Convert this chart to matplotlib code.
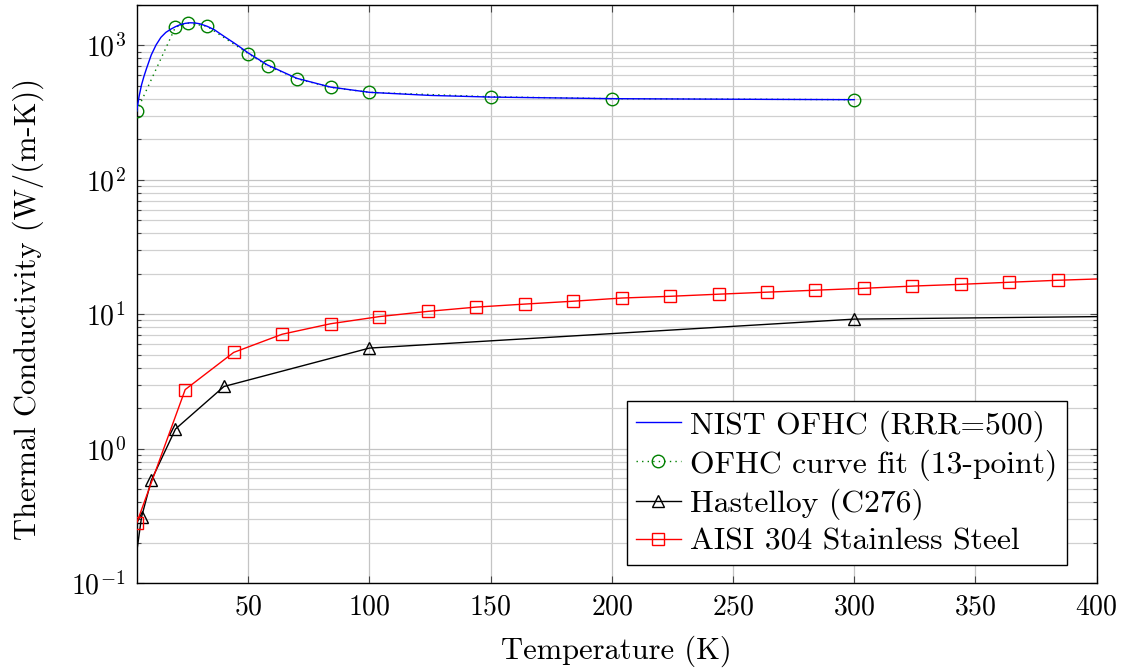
import matplotlib
matplotlib.use("Agg")
import matplotlib.pyplot as plt
from matplotlib.ticker import LogLocator, NullFormatter

plt.rcParams['font.family'] = 'serif'
plt.rcParams['font.serif'] = ['cmr10', 'DejaVu Serif']
plt.rcParams['mathtext.fontset'] = 'cm'
plt.rcParams['axes.formatter.use_mathtext'] = True

# NIST OFHC copper, RRR = 500
nist_T = [4, 5, 6, 7, 8, 10, 12, 14, 16, 18, 20, 22, 24, 26, 28, 30, 33, 36,
          40, 45, 50, 58, 70, 84, 100, 125, 150, 200, 250, 300]
nist_k = [324, 420, 510, 590, 670, 850, 1010, 1150, 1250, 1320, 1380, 1430,
          1460, 1475, 1470, 1450, 1390, 1310, 1170, 1020, 880, 715, 570, 490,
          448, 425, 413, 402, 398, 395]

# curve-fit points
fit_T = [4, 20, 25, 33, 50, 58, 70, 84, 100, 150, 200, 300]
fit_k = [324, 1370, 1470, 1390, 870, 707, 566, 488, 448, 415, 402, 395]

# Hastelloy C276
hast_T = [4, 6, 10, 20, 40, 100, 300, 400]
hast_k = [0.17, 0.31, 0.58, 1.40, 2.9, 5.6, 9.2, 9.6]

# AISI 304 stainless steel
ss_T = [4, 24, 44, 64, 84, 104, 124, 144, 164, 184, 204, 224, 244, 264, 284,
        304, 324, 344, 364, 384, 400]
ss_k = [0.28, 2.75, 5.2, 7.1, 8.5, 9.6, 10.5, 11.3, 11.9, 12.5, 13.2, 13.6,
        14.1, 14.6, 15.1, 15.6, 16.2, 16.7, 17.3, 17.9, 18.3]

fig = plt.figure(figsize=(11.27, 6.68), dpi=100)
ax = fig.add_axes([0.1213, 0.1272, 0.8518, 0.8653])

ax.plot(nist_T, nist_k, color='#0000ff', lw=1.0, label='NIST OFHC (RRR=500)', zorder=4)
ax.plot(fit_T, fit_k, color='#008000', lw=1.0, ls=(0, (1, 3)), marker='o', ms=9,
        mfc='none', mec='#008000', mew=1.0, label='OFHC curve fit (13-point)', zorder=3)
ax.plot(hast_T, hast_k, color='black', lw=1.0, marker='^', ms=8, mfc='none',
        mew=1.0, markevery=list(range(1, len(hast_T) - 1)), label='Hastelloy (C276)', zorder=3)
ax.plot(ss_T, ss_k, color='#ff0000', lw=1.0, marker='s', ms=9, mfc='none',
        mew=1.0, markevery=list(range(len(ss_T) - 1)), label='AISI 304 Stainless Steel', zorder=3)

ax.set_yscale('log')
ax.set_xlim(4, 400)
ax.set_ylim(0.1, 2000)
ax.set_xticks([50, 100, 150, 200, 250, 300, 350, 400])
ax.yaxis.set_major_locator(LogLocator(base=10))
ax.yaxis.set_minor_locator(LogLocator(base=10, subs=range(2, 10), numticks=20))
ax.yaxis.set_minor_formatter(NullFormatter())

ax.grid(True, which='major', color='#c4c4c4', lw=0.9)
ax.grid(True, which='minor', axis='y', color='#d0d0d0', lw=0.9)
ax.set_axisbelow(True)

ax.tick_params(which='both', direction='in', top=True, right=True, labelsize=20, color='#444444')
ax.tick_params(which='major', length=5, width=0.8, pad=8)
ax.tick_params(which='minor', length=3, width=0.8)
for s in ax.spines.values():
    s.set_linewidth(1.0)

ax.set_xlabel('Temperature (K)', fontsize=22, labelpad=11)
ax.set_ylabel('Thermal Conductivity (W/(m-K))', fontsize=22)
ax.yaxis.set_label_coords(-0.097, 0.475)

leg = ax.legend(loc='lower right', bbox_to_anchor=(0.969, 0.031), borderaxespad=0,
                fontsize=22.8, frameon=True, fancybox=False, edgecolor='black',
                framealpha=1, handlelength=1.4, handletextpad=0.3,
                labelspacing=0.24, borderpad=0.3)
leg.get_frame().set_linewidth(1.0)

fig.savefig('out.png', dpi=100)
